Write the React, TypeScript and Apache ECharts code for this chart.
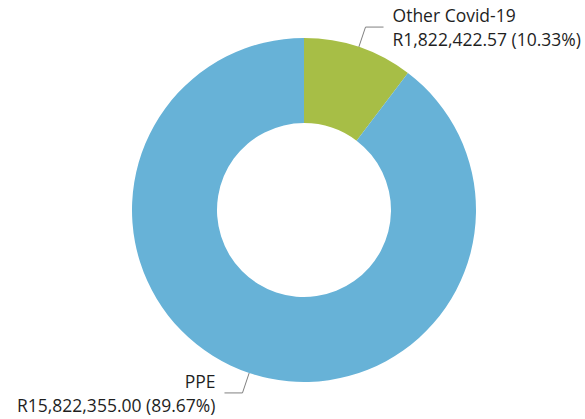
import React, { useEffect, useRef } from "react";
import * as echarts from "echarts";

const categories = ["Other Covid-19", "PPE"];
const values = [1822422.57, 15822355.0];
const colors = ["#A7BE46", "#67B2D7"];

function fmt(v: number): string {
  return v.toLocaleString("en-US", { minimumFractionDigits: 2, maximumFractionDigits: 2 });
}

export default function App() {
  const ref = useRef<HTMLDivElement>(null);
  useEffect(() => {
    document.body.style.margin = "0";
    const chart = echarts.init(ref.current!, null, { renderer: "svg" });
    chart.setOption({
      animation: false,
      series: [
        {
          type: "pie",
          center: [304, 210],
          radius: [87, 172],
          startAngle: 90,
          clockwise: true,
          percentPrecision: 2,
          avoidLabelOverlap: false,
          data: categories.map((c, i) => ({
            name: c,
            value: values[i],
            itemStyle: { color: colors[i] },
          })),
          label: {
            show: true,
            position: "outside",
            formatter: (p: any) => `${p.name}\nR${fmt(p.value)} (${p.percent.toFixed(2)}%)`,
            fontFamily: "'Open Sans', 'Noto Sans', sans-serif",
            fontSize: 17.5,
            lineHeight: 24,
            color: "#1f1f1f",
            distanceToLabelLine: 9,
          },
          labelLine: {
            show: true,
            length: 21,
            length2: 18,
            lineStyle: { color: "#808080", width: 1 },
          },
          emphasis: { disabled: true },
        },
      ],
    });
    return () => chart.dispose();
  }, []);
  return <div ref={ref} style={{ width: 585, height: 419 }} />;
}
